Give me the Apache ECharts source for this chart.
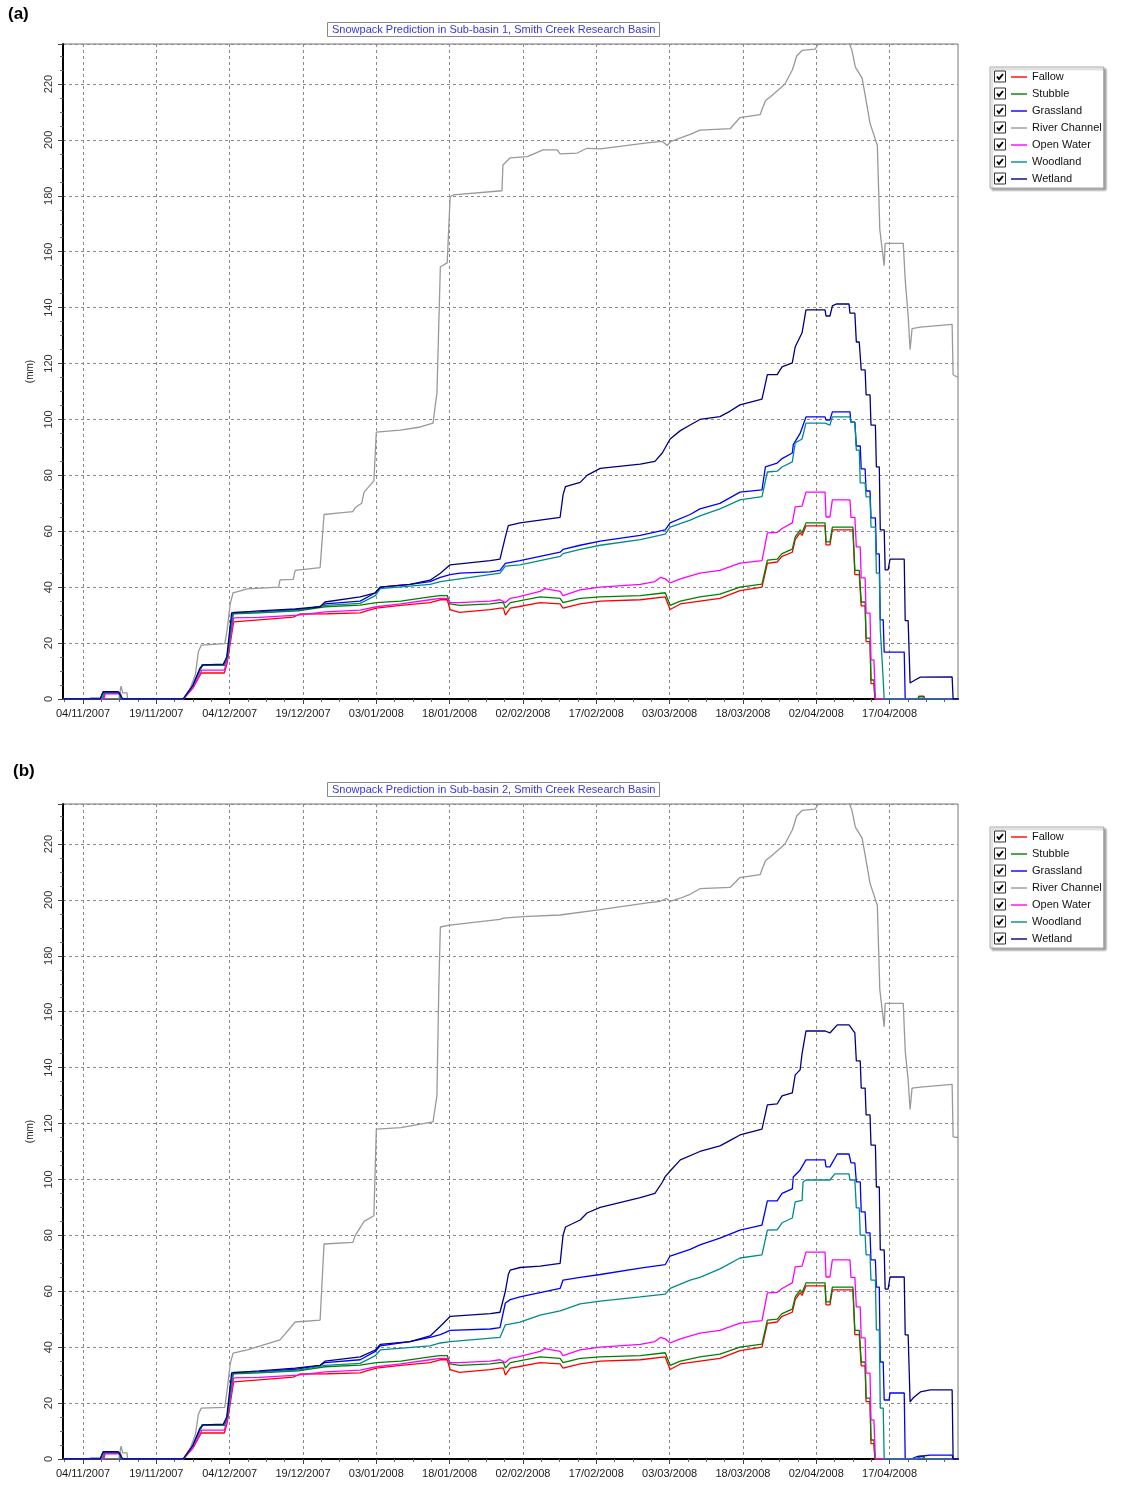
<!DOCTYPE html>
<html>
<head>
<meta charset="utf-8">
<script src="https://cdn.jsdelivr.net/npm/echarts@6/dist/echarts.min.js"></script>
<style>
html,body{margin:0;padding:0;background:#fff;}
#chart{width:1133px;height:1506px;}
</style>
</head>
<body>
<div id="chart"></div>
<script>
// ---- DATA (x = days since 04/11/2007, y = snowpack in mm) ----
const seriesNames = ['Fallow','Stubble','Grassland','River Channel','Open Water','Woodland','Wetland'];
const titles = ['Snowpack Prediction in Sub-basin 1, Smith Creek Research Basin',
                'Snowpack Prediction in Sub-basin 2, Smith Creek Research Basin'];
const panelLabels = ['(a)','(b)'];
const xTickDays = [0,15,30,45,60,75,90,105,120,135,150,165];
const xTickLabels = ['04/11/2007','19/11/2007','04/12/2007','19/12/2007','03/01/2008','18/01/2008',
                     '02/02/2008','17/02/2008','03/03/2008','18/03/2008','02/04/2008','17/04/2008'];
const xMinorDays = [-3.75,3.75,7.5,11.25,18.75,22.5,26.25,33.75,37.5,41.25,48.75,52.5,56.25,63.75,67.5,71.25,
  78.75,82.5,86.25,93.75,97.5,101.25,108.75,112.5,116.25,123.75,127.5,131.25,138.75,142.5,146.25,
  153.75,157.5,161.25,168.75,172.5,176.25];

const fallow = [[-4,0],[4.2,0],[4.4,2],[7.6,2],[7.8,0],[20.5,0],[22.5,4],[24.2,9.3],[28.9,9.3],[29.5,13],[30.8,27.6],
  [36,28.3],[43,29.3],[44.4,30.4],[50,30.5],[56.7,30.8],[58,31.5],[60,32.5],[65,33.5],[71,34.5],[73,35.5],[74.5,35.5],
  [75.1,32],[77,31],[83.3,32],[85.3,32.5],[86,32.5],[86.4,30],[87.4,32.5],[89,33],[93.5,34.5],[97.6,34],[98.2,32.5],
  [101.7,34],[105.8,35],[114,35.5],[119.1,36.5],[119.5,36.5],[120.1,32],[122.2,34],[126.2,35],[130.3,36],[134.4,38.8],
  [138.9,40],[140,48.5],[142,49],[143,51],[145.1,52.5],[145.7,57],[146.7,59.5],[147.1,58.5],[147.9,61.9],[151.8,61.9],
  [152,55.1],[152.8,55.1],[153.3,60.5],[157.5,60.5],[157.9,44.5],[158.8,44.5],[159.2,33.3],[160,33.3],[160.2,20.5],
  [161,20.5],[161.2,5.5],[161.8,5.5],[162,0],[170.8,0],[171,1],[172,1],[172.2,0],[179,0]];
const stubble = [[-4,0],[4.2,0],[4.4,2.3],[7.6,2.3],[7.8,0],[20.5,0],[22.5,5],[24.4,12],[28.9,12],[29.5,15],[30.7,30.5],
  [36,30.8],[44,31.5],[49.5,33],[56.7,33.6],[60,34.5],[65,35],[71,36.5],[73,37],[74.5,37],[75.1,34],[77,33.5],[83.3,34],
  [85.3,34.5],[86,34.5],[86.4,32.5],[87.4,34.5],[89,35],[93.5,36.5],[97.6,36],[98.2,34.5],[101.7,36],[105.8,36.5],
  [114,37],[119.1,38],[119.5,38],[120.1,33.5],[122.2,35],[126.2,36.5],[130.3,37.5],[134.4,40],[138.9,41.1],[140,49.7],
  [142,50],[143,52],[145.1,53.6],[145.7,58],[146.7,60.5],[147.1,59.5],[147.9,63],[151.8,63],[152,56.2],[152.8,56.2],
  [153.3,61.5],[157.5,61.5],[157.9,46],[158.8,46],[159.2,34.7],[160,34.7],[160.2,21.8],[161,21.8],[161.2,6.8],
  [161.8,6.8],[162,0],[170.8,0],[171,0.8],[172,0.8],[172.2,0],[179,0]];
const openWater = [[-4,0],[4.3,0],[4.5,1.8],[7.7,1.8],[7.9,0],[20.5,0],[22.5,4],[24.3,10.3],[28.9,10.3],[29.5,14],
  [30.8,29],[36,29.2],[44,30],[49.5,31.2],[56.7,31.8],[60,33],[65,34],[71,35.5],[73,36],[74.5,36],[75.1,34.5],[77,34.5],
  [83.3,35],[85.3,35.5],[86.4,34.5],[87.4,36],[89,36.5],[93.5,38.5],[94.5,39.5],[97.6,38.5],[98.2,37],[101.7,39],
  [105.8,40],[114,41],[117,42],[118.1,43.5],[119.1,43],[120.1,41.5],[122.2,43],[126.2,45],[130.3,46],[134.4,48.6],
  [138.9,49.5],[140,59.4],[142,59.6],[143,61],[145.1,63],[145.7,68.7],[147.1,69],[147.9,74],[151.8,74],[152,65.1],
  [152.8,65.1],[153.3,71.2],[156.9,71.2],[157.1,65],[157.9,65],[158.2,54.4],[159,54.4],[159.2,43.3],[160,43.3],
  [160.2,30.7],[161,30.7],[161.2,14],[161.8,14],[162.1,0],[179,0]];

const grassA = [[-4,0],[3.5,0],[3.8,0.5],[4.1,2.4],[7.2,2.4],[7.6,1.2],[8,1.2],[8.1,0],[20.5,0],[22.5,5],[24.4,12.3],
  [28.9,12.4],[29.5,15],[30.7,31],[36,31.2],[44,32],[48.5,33],[49.5,34],[56.7,35],[59.8,38],[60.8,40],[66.9,41],[71,42],
  [73.1,43.5],[75.1,44.5],[77.1,45],[83.3,45.5],[85.3,46],[86.4,48.5],[89.4,49.5],[93.5,51],[97.6,52.5],[98.2,53.5],
  [101.7,55],[105.8,56.5],[114,58.5],[119.1,60.5],[120.1,63],[124.2,66],[126.2,68],[130.3,70],[134.4,74],[138.9,74.8],
  [139.6,83],[142,84.4],[143,86],[145.1,88],[145.3,91],[146.7,95],[147.9,100.9],[151.8,100.9],[152,99.8],[152.8,99.8],
  [153.3,102.7],[156.9,102.7],[157.1,99],[157.9,99],[158.2,90.5],[159,90.5],[159.2,82.3],[160,82.3],[160.2,74.4],
  [161,74.4],[161.2,64.8],[162.1,64.8],[162.3,51.9],[162.9,51.9],[163.1,28.3],[163.7,28.3],[163.9,16.8],[168,16.8],
  [168.2,0],[179,0]];
const riverA = [[-4,0],[7.3,0],[7.5,2.2],[7.8,4.6],[8,4.6],[8.1,2.2],[9,2.2],[9.1,0],[20.5,0],[22,4],[23,9],[23.6,17],
  [24.2,19.3],[29,19.8],[29.5,25],[30.1,34],[30.7,38],[33.6,39.4],[40,40],[40.3,42.6],[43,42.8],[43.4,46],[48.5,47],
  [49.3,66],[52,66.5],[55.2,67],[55.7,68.5],[57,70],[57.5,74],[59.5,78],[60,95.5],[64.9,96.2],[69,97.3],[71.6,98.7],
  [72.4,109.5],[73.1,154.6],[74.5,156],[75.1,179.6],[75.7,180.3],[85.7,181.8],[85.9,191],[87.4,193.6],[90.9,194],
  [94.1,196.4],[97,196.4],[97.6,195],[101.1,195.3],[103.1,197],[105.8,196.8],[115.8,199],[118.5,199.5],[119.5,198],
  [120.3,199.5],[124.2,202],[126.2,203.5],[132.4,204],[134.4,208],[138.5,209],[139.6,214],[141,216],[143.6,220],
  [145.1,225],[146,230],[147.1,232],[149.8,232.5],[151,236],[156.5,236],[157.3,232],[158,226],[159.4,222],[161,206],
  [162.5,198],[163,168],[163.9,155],[164.1,163],[167.8,163],[168.2,150],[168.8,137],[169.2,125],[169.6,132.5],
  [171.3,133],[177.8,134],[178,116],[179,115]];
const woodA = [[-4,0],[1,0],[1.5,0.3],[4,0.3],[4.2,2.3],[7.5,2.3],[7.6,0],[20.5,0],[22.5,5],[24.4,12.2],[28.9,12.3],
  [29.5,15],[30.7,30.8],[36,31],[44,31.8],[49.5,33.5],[56.7,34.2],[59.8,37],[60.8,39.5],[71,41],[73.1,42],[77.1,43],
  [85.3,45],[86.4,47.5],[89.4,48],[93.5,49.5],[97.6,51],[98.2,52],[101.7,53.5],[105.8,55],[114,57],[119.1,59],
  [120.1,61.5],[124.2,64],[126.2,65.5],[130.3,68],[134.4,71.2],[138.9,72.4],[140,81.2],[142,81.5],[143,83],[145.1,84.8],
  [145.7,91.6],[147.1,93],[147.9,98.7],[151.8,98.7],[152,98],[152.8,98],[153.3,100.9],[156.9,100.9],[157.1,99],
  [157.9,99],[158.2,89],[158.8,89],[159,77.3],[160,77.3],[160.2,72.3],[161,72.3],[161.2,61.5],[162.1,61.5],[162.3,45],
  [162.9,45],[163.1,25],[163.6,10],[163.9,0],[179,0]];
const wetA = [[-4,0],[3.5,0],[3.8,0.5],[4.1,2.6],[7.2,2.6],[7.6,1.5],[8,1.5],[8.1,0],[20.5,0],[22.5,5],[23.9,11],
  [24.6,12.2],[28.7,12.5],[29.4,15],[30.4,30.8],[30.7,31.1],[36,31.5],[43.4,32.2],[48.5,33],[49.5,34.7],[56.7,36.5],
  [59.8,38],[60.8,40],[66.9,41],[71,42.5],[73.1,45],[75.1,48],[83.3,49.5],[85.3,50],[86.4,58],[87,62],[89.4,63],
  [93.5,64],[97.6,65],[98.2,73],[98.7,76],[101.7,77.5],[103.1,80],[105.8,82.5],[114,84],[117,85],[118.5,88],[120.1,93],
  [122.2,96],[124.2,98],[126.2,100],[130.3,101],[132.4,103],[134.4,105.2],[138.9,107.3],[140,116],[142,116],[143,118.8],
  [145.1,120.2],[145.7,126],[147.1,131],[147.9,139.2],[151.8,139.2],[152,137],[152.8,137],[153.3,140.6],[154.1,141.3],
  [156.7,141.3],[156.9,138],[157.9,138],[158.2,127.7],[158.8,127.7],[159.2,117.7],[160,117.7],[160.2,108.8],[161,108.8],
  [161.2,98],[162.1,98],[162.3,83],[162.9,83],[163.1,60.5],[163.9,60.5],[164.1,46.2],[164.7,46.2],[165.1,50],[168,50],
  [168.2,28],[168.8,28],[169.2,5.7],[170.2,6.8],[171.3,7.8],[177.8,7.9],[178,0],[179,0]];

const grassB = [[-4,0],[3.5,0],[3.8,0.5],[4.1,2.4],[7.2,2.4],[7.6,1.2],[8,1.2],[8.1,0],[20.5,0],[22.5,5],[24.4,12.3],
  [28.9,12.4],[29.5,15],[30.7,31],[36,31.2],[44,32.2],[48.5,33.5],[49.5,34.5],[56.7,35.5],[59.8,38.5],[60.8,40.5],
  [66.9,42],[71,43.5],[73.1,44.5],[75.1,46],[83.3,46.5],[85.3,47],[86.4,55.8],[87.4,57],[89.4,58],[93.5,59.5],[97.6,61],
  [98.2,64],[101.7,65],[105.8,66],[114,68.3],[119.1,69.5],[120.1,72.6],[124.2,75],[126.2,76.6],[130.3,79],[134.4,81.9],
  [138.9,83.7],[140,92.3],[142,92.3],[143,95],[145.1,96.6],[145.3,100.9],[146.7,103.4],[147.9,107],[151.8,107],
  [152,104.5],[152.8,104.5],[154.3,109.1],[156.7,109.1],[157.1,105.9],[157.9,105.9],[158.2,99.1],[159,99.1],[159.2,88.4],
  [160,88.4],[160.2,80.9],[161,80.9],[161.2,71.2],[162.1,71.2],[162.3,61.5],[162.9,61.5],[163.1,34.7],[163.7,34.7],
  [163.9,21.1],[164.9,21.1],[165.1,23.6],[168,23.6],[168.2,0],[169.4,0],[170.5,0.8],[173.3,1.4],[177.8,1.4],[178,0],[179,0]];
const riverB = [[-4,0],[7.3,0],[7.5,2.2],[7.8,4.6],[8,4.6],[8.1,2.2],[9,2.2],[9.1,0],[20.5,0],[22,4],[23,9],[23.6,16],
  [24.2,18.2],[29,18.5],[29.5,25],[30.1,34],[30.7,37.9],[33.6,39],[40.3,42.6],[43.4,49],[48.5,49.7],[49.3,76.9],
  [55.2,77.5],[55.7,80],[57.5,85],[59.5,87],[60,118],[65,118.5],[71.6,120.6],[72.4,130],[72.8,170],[73.1,190.3],[75,191],
  [85.3,193],[86,193.5],[90,194],[97.6,194.6],[105.8,196.5],[115.8,199],[118.1,199.5],[119.3,200.5],[120.1,199.5],
  [122,200.5],[124.2,202],[126.2,204],[132.4,204.5],[134.4,208],[138.5,209],[139.6,214],[141,216],[143.6,220],
  [145.1,225],[146,230],[147.1,232],[149.8,232.5],[151,236],[156.5,236],[157.3,232],[158,226],[159.4,222],[161,206],
  [162.5,198],[163,168],[163.9,154.6],[164.1,163],[167.8,163],[168.2,146],[168.8,135.6],[169.2,125],[169.6,132.7],
  [171.3,133],[177.8,134],[178,115.2],[179,115]];
const woodB = [[-4,0],[1,0],[1.5,0.3],[4,0.3],[4.2,2.3],[7.5,2.3],[7.6,0],[20.5,0],[22.5,5],[24.4,12.2],[28.9,12.3],
  [29.5,15],[30.7,30.8],[36,31],[44,31.8],[49.5,33.5],[56.7,34.2],[59.8,37],[60.8,39],[71,40.5],[73.1,41.5],[75.1,42],
  [85.3,43.5],[86.4,48],[89.4,49],[93.5,51.5],[97.6,53],[101.7,55.5],[105.8,56.5],[114,58],[119.1,59],[120.1,61],
  [124.2,64],[126.2,65],[130.3,68],[134.4,71.9],[138.9,73],[140,81.9],[142,82],[143,84.5],[145.1,86.2],[145.7,92],
  [147.1,92.5],[147.3,99.1],[147.9,99.8],[152.8,99.8],[153.8,102],[156.7,102],[156.9,99.8],[157.9,99.8],[158.2,89.8],
  [158.8,89.8],[159,80.1],[160,80.1],[160.2,73],[161,73],[161.2,64],[162.1,64],[162.3,46.2],[162.9,46.2],[163.1,18.2],
  [163.7,18.2],[163.9,0],[179,0]];
const wetB = [[-4,0],[3.5,0],[3.8,0.5],[4.1,2.6],[7.2,2.6],[7.6,1.5],[8,1.5],[8.1,0],[20.5,0],[22.5,5],[23.9,11],
  [24.6,12.2],[28.7,12.5],[29.4,15],[30.4,30.8],[30.7,31.1],[36,31.5],[43.4,32.5],[48.5,33.5],[49.5,35],[56.7,36.5],
  [59.8,39],[60.8,41],[66.9,42],[71,44],[73.1,47.5],[75.1,51],[83.3,52],[85.3,52.5],[86.4,60],[87,66],[87.4,67.6],
  [89.4,68.5],[93.5,69],[97.6,70],[98.2,80],[98.7,83],[101.7,85.5],[103.1,88],[105.8,90],[114,93.5],[117,95],[118.5,99],
  [119.1,101],[120.1,103],[122.2,107],[126.2,110],[130.3,112],[132.4,114],[134.4,115.9],[138.9,118],[140,126.7],
  [142,127],[143,129.9],[145.1,131],[145.7,137.4],[146.7,139.2],[147.1,145],[147.9,153.1],[151.8,153.1],[152,152.4],
  [152.8,152.4],[154.3,155.3],[156.7,155.3],[157.9,152.4],[158.2,142.4],[159,142.4],[159.2,132.7],[160,132.7],
  [160.2,123.1],[161,123.1],[161.2,112.3],[162.1,112.3],[162.3,97.3],[162.9,97.3],[163.1,74.8],[163.9,74.8],
  [164.1,60.8],[164.7,60.8],[165.1,65.1],[168,65.1],[168.2,44.4],[168.8,44.4],[169.2,20.4],[169.8,21.8],[171.3,24],
  [173.3,24.7],[177.8,24.7],[178,0],[179,0]];

const panelData = [
  [fallow, stubble, grassA, riverA, openWater, woodA, wetA],
  [fallow, stubble, grassB, riverB, openWater, woodB, wetB]
];

// ---- STYLE ----
const colors = ['#ff0000','#008000','#0000ff','#999999','#ff00ff','#008b8b','#000080'];
const FONT = '"Liberation Sans", Arial, sans-serif';
const X_MIN = -4.1, X_MAX = 179, Y_MIN = 0, Y_MAX = 234.3;
const grids = [{left:63, top:44, width:895, height:655}, {left:63, top:804, width:895, height:655}];
const legendTops = [67, 827];
const titleTops = [22, 782];
const labelTops = [6, 763];
const labelLefts = [8, 13];

const option = {
  animation: false,
  backgroundColor: '#fff',
  textStyle: {fontFamily: FONT},
  title: [], legend: [], grid: [], xAxis: [], yAxis: [], series: [], graphic: []
};

grids.forEach((g, p) => {
  option.grid.push(Object.assign({show: true, borderColor: '#777', borderWidth: 1, backgroundColor: '#fff'}, g));
  option.title.push({
    text: titles[p], left: 327, top: titleTops[p], padding: [2, 4, 2, 5],
    borderColor: '#888', borderWidth: 1, backgroundColor: '#fff',
    textStyle: {fontSize: 11, fontWeight: 'normal', color: '#3535ee', fontFamily: FONT}
  });
  option.graphic.push({type: 'text', left: labelLefts[p], top: labelTops[p], z: 100,
    style: {text: panelLabels[p], font: 'bold 17px ' + FONT, fill: '#000'}});
  option.xAxis.push({
    type: 'value', gridIndex: p, min: X_MIN, max: X_MAX, position: 'bottom',
    axisLine: {show: true, onZero: false, lineStyle: {color: '#000', width: 2}},
    axisTick: {show: true, customValues: xTickDays, length: 5, lineStyle: {color: '#444'}},
    axisLabel: {customValues: xTickDays, fontSize: 11, color: '#1a1a1a', margin: 9, fontFamily: FONT,
      formatter: v => { const i = xTickDays.indexOf(Math.round(v)); return i >= 0 ? xTickLabels[i] : ''; }},
    splitLine: {show: true, lineStyle: {type: [3, 3], color: '#8a8a8a', width: 1}}
  });
  option.xAxis.push({
    type: 'value', gridIndex: p, min: X_MIN, max: X_MAX, position: 'bottom',
    axisLine: {show: false, onZero: false},
    axisTick: {show: true, customValues: xMinorDays, length: 3, lineStyle: {color: '#666'}},
    axisLabel: {show: false}, splitLine: {show: false}
  });
  option.yAxis.push({
    type: 'value', gridIndex: p, min: Y_MIN, max: Y_MAX, interval: 20,
    name: '(mm)', nameLocation: 'middle', nameGap: 21, nameRotate: 90,
    nameTextStyle: {fontSize: 10, color: '#222', fontFamily: FONT},
    axisLine: {show: true, onZero: false, lineStyle: {color: '#000', width: 2}},
    axisTick: {show: true, length: 5, lineStyle: {color: '#444'}},
    minorTick: {show: true, splitNumber: 4, length: 3, lineStyle: {color: '#666'}},
    axisLabel: {rotate: 90, fontSize: 11, color: '#333', margin: 9, showMaxLabel: false, fontFamily: FONT},
    splitLine: {show: true, lineStyle: {type: [3, 3], color: '#8a8a8a', width: 1}}
  });
  option.legend.push({
    data: seriesNames, orient: 'vertical', left: 990, top: legendTops[p],
    padding: [4, 2, 3, 21], itemWidth: 16, itemHeight: 1.4, itemGap: 5, icon: 'rect',
    backgroundColor: '#fff', borderColor: '#aaa', borderWidth: 1,
    shadowColor: 'rgba(0,0,0,0.35)', shadowBlur: 2, shadowOffsetX: 2, shadowOffsetY: 2,
    textStyle: {fontSize: 11, color: '#111', lineHeight: 12, fontFamily: FONT},
    selectedMode: false
  });
  seriesNames.forEach((n, i) => {
    option.series.push({
      type: 'line', name: n, xAxisIndex: p * 2, yAxisIndex: p, data: panelData[p][i],
      symbol: 'none', clip: true, z: 2 + i,
      lineStyle: {color: colors[i], width: 1.3}, itemStyle: {color: colors[i]}
    });
    // checkbox decoration next to each legend entry
    const cy = legendTops[p] + 4 + i * 17 + 5;
    option.graphic.push({type: 'group', left: 994, top: cy - 5.5, z: 100, children: [
      {type: 'rect', z: 100, shape: {x: 0, y: 0, width: 11, height: 11}, style: {fill: '#fff', stroke: '#333', lineWidth: 1}},
      {type: 'polyline', z: 101, shape: {points: [[2.5, 5.5], [4.5, 8], [8.5, 3]]}, style: {stroke: '#000', lineWidth: 2, fill: null}}
    ]});
  });
});

const chart = echarts.init(document.getElementById('chart'), null, {renderer: 'canvas'});
chart.setOption(option);
</script>
</body>
</html>
